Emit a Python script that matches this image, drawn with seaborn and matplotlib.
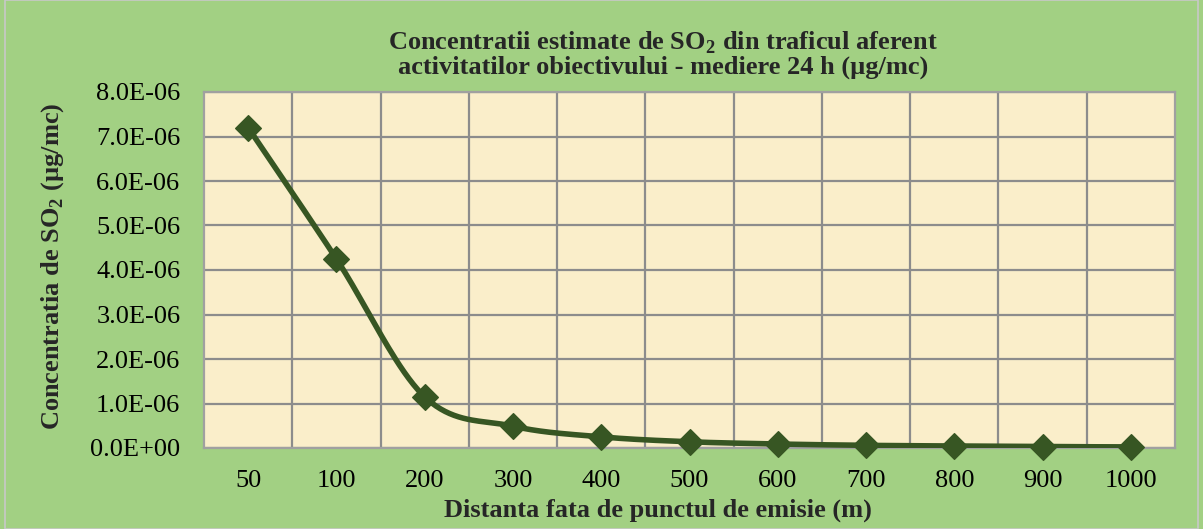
import numpy as np
import pandas as pd
import matplotlib
matplotlib.use("Agg")
import matplotlib.pyplot as plt
import seaborn as sns
from matplotlib.ticker import FuncFormatter

# ---- data ----
distances = ["50", "100", "200", "300", "400", "500", "600", "700", "800", "900", "1000"]
concentration = [7.20e-06, 4.25e-06, 1.15e-06, 0.49e-06, 0.25e-06, 0.14e-06,
                 0.09e-06, 0.06e-06, 0.045e-06, 0.032e-06, 0.025e-06]
y_ticks = [0, 1e-6, 2e-6, 3e-6, 4e-6, 5e-6, 6e-6, 7e-6, 8e-6]

sns.set_theme(style="white")
plt.rcParams['font.family'] = ['Liberation Serif', 'DejaVu Serif']
plt.rcParams['mathtext.fontset'] = 'custom'
plt.rcParams['mathtext.rm'] = 'Liberation Serif:bold'
plt.rcParams['mathtext.bf'] = 'Liberation Serif:bold'

FIG_BG = "#A2D083"
AX_BG = "#FAEECA"
LINE = "#375623"
GRID = "#8C8C8C"
FS = 19

fig = plt.figure(figsize=(12.03, 5.29), dpi=100, facecolor=FIG_BG)
ax = fig.add_axes([204/1203, 1-448/529, (1175-204)/1203, (448-92)/529])
ax.set_facecolor(AX_BG)

# smoothed curve (Catmull-Rom, like Excel's smoothed line)
xs = np.arange(len(distances), dtype=float)
ys = np.array(concentration)
P = np.column_stack([xs, ys])
Pp = np.vstack([P[0], P, P[-1]])
sx, sy = [], []
t = np.linspace(0, 1, 40)
for i in range(len(P) - 1):
    p0, p1, p2, p3 = Pp[i], Pp[i+1], Pp[i+2], Pp[i+3]
    c1 = p1 + (p2 - p0) / 6.0
    c2 = p2 - (p3 - p1) / 6.0
    b = ((1-t)**3)[:, None]*p1 + (3*(1-t)**2*t)[:, None]*c1 + (3*(1-t)*t**2)[:, None]*c2 + (t**3)[:, None]*p2
    sx.extend(b[:, 0]); sy.extend(b[:, 1])
smooth = pd.DataFrame({"x": sx, "y": sy})
pts = pd.DataFrame({"x": xs, "y": ys})

sns.lineplot(data=smooth, x="x", y="y", sort=False, color=LINE, lw=4.0, ax=ax, zorder=3)
sns.scatterplot(data=pts, x="x", y="y", marker="D", s=170, color=LINE, edgecolor=LINE, ax=ax, zorder=4,
                clip_on=False)

ax.set_xlim(-0.5, len(distances) - 0.5)
ax.set_ylim(0, 8e-6)
ax.set_yticks(y_ticks)
ax.yaxis.set_major_formatter(FuncFormatter(lambda v, p: "%.1E" % v))
ax.set_xticks(xs)
ax.set_xticklabels(distances)
ax.grid(False)
for v in y_ticks:
    ax.axhline(v, color=GRID, lw=1.6, zorder=1)
for v in np.arange(0.5, len(distances) - 0.5, 1.0):
    ax.axvline(v, color=GRID, lw=1.6, zorder=1)
for s in ax.spines.values():
    s.set_color("#A0A0A0")
    s.set_linewidth(1.6)
ax.tick_params(axis="both", which="both", length=0, labelsize=FS, colors="black")
ax.tick_params(axis="x", pad=16)
ax.tick_params(axis="y", pad=17)
ax.set_xlabel("")
ax.set_ylabel("")

fig.text(53/1203, 1-266/529, r"Concentratia de SO$_\mathbf{2}$ (µg/mc)", rotation=90,
         ha="center", va="center", fontsize=FS, fontweight="bold")
fig.text(663/1203, 1-54/529,
         "Concentratii estimate de SO$_\\mathbf{2}$ din traficul aferent\nactivitatilor obiectivului - mediere 24 h (µg/mc)",
         ha="center", va="center", fontsize=FS, fontweight="bold", linespacing=1.0)
fig.text(658/1203, 1-510/529, "Distanta fata de punctul de emisie (m)",
         ha="center", va="center", fontsize=FS, fontweight="bold")

fig.patches.append(plt.Rectangle((5/1203, 0), 1 - 10/1203, 1, transform=fig.transFigure,
                                 fill=False, edgecolor="#C8C8C8", lw=1.2))

fig.savefig("out.png", dpi=100, facecolor=FIG_BG)
